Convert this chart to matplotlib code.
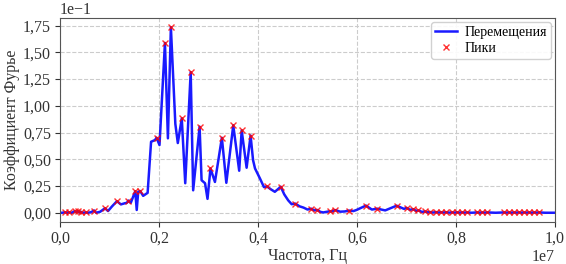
import numpy as np
import matplotlib
matplotlib.use("Agg")
import matplotlib.pyplot as plt
from matplotlib.ticker import ScalarFormatter, MultipleLocator

plt.rcParams['font.family'] = ['Liberation Serif', 'DejaVu Serif']

# Frequency in MHz (converted to Hz below) and Fourier coefficient amplitude
freq_mhz = [
    0.00, 0.04, 0.10, 0.14, 0.18, 0.24, 0.30, 0.33, 0.36, 0.39,
    0.42, 0.46, 0.52, 0.57, 0.63, 0.69, 0.73, 0.81, 0.91, 0.97,
    1.05, 1.15, 1.23, 1.31, 1.35, 1.38, 1.43, 1.52, 1.55, 1.58,
    1.62, 1.68, 1.77, 1.84, 1.92, 1.95, 2.01, 2.12, 2.18, 2.24,
    2.33, 2.38, 2.46, 2.53, 2.64, 2.69, 2.82, 2.86, 2.93, 2.98,
    3.04, 3.13, 3.27, 3.36, 3.50, 3.62, 3.67, 3.77, 3.85, 3.90,
    3.94, 4.04, 4.12, 4.18, 4.26, 4.34, 4.46, 4.53, 4.61, 4.68,
    4.75, 4.84, 4.92, 5.00, 5.08, 5.13, 5.20, 5.26, 5.32, 5.45,
    5.49, 5.56, 5.66, 5.75, 5.84, 5.93, 5.99, 6.18, 6.30, 6.41,
    6.57, 6.80, 6.90, 6.95, 7.00, 7.07, 7.14, 7.19, 7.24, 7.31,
    7.37, 7.42, 7.47, 7.53, 7.60, 7.65, 7.70, 7.75, 7.80, 7.86,
    7.92, 7.97, 8.02, 8.07, 8.12, 8.17, 8.22, 8.32, 8.42, 8.47,
    8.53, 8.58, 8.63, 8.80, 8.97, 9.02, 9.07, 9.12, 9.17, 9.22,
    9.27, 9.32, 9.37, 9.42, 9.47, 9.52, 9.58, 9.63, 9.68, 9.80,
    10.00,
]
amplitude = [
    0.0000, 0.0000, 0.0004, 0.0000, 0.0004, 0.0000, 0.0015, 0.0007, 0.0015, 0.0003,
    0.0009, 0.0000, 0.0003, 0.0000, 0.0006, 0.0021, 0.0000, 0.0009, 0.0042, 0.0016,
    0.0059, 0.0108, 0.0078, 0.0089, 0.0092, 0.0114, 0.0093, 0.0201, 0.0026, 0.0196,
    0.0203, 0.0158, 0.0186, 0.0664, 0.0680, 0.0702, 0.0633, 0.1588, 0.0696, 0.1735,
    0.0831, 0.0652, 0.0882, 0.0276, 0.1315, 0.0210, 0.0805, 0.0304, 0.0276, 0.0130,
    0.0414, 0.0288, 0.0701, 0.0280, 0.0817, 0.0393, 0.0770, 0.0421, 0.0722, 0.0492,
    0.0414, 0.0320, 0.0240, 0.0246, 0.0219, 0.0196, 0.0243, 0.0172, 0.0116, 0.0080,
    0.0086, 0.0060, 0.0048, 0.0030, 0.0038, 0.0022, 0.0026, 0.0008, 0.0003, 0.0014,
    0.0012, 0.0025, 0.0010, 0.0012, 0.0020, 0.0016, 0.0026, 0.0067, 0.0030, 0.0038,
    0.0022, 0.0066, 0.0046, 0.0036, 0.0046, 0.0028, 0.0033, 0.0018, 0.0022, 0.0008,
    0.0012, 0.0004, 0.0007, 0.0002, 0.0006, 0.0002, 0.0005, 0.0002, 0.0005, 0.0001,
    0.0004, 0.0001, 0.0004, 0.0001, 0.0004, 0.0001, 0.0003, 0.0000, 0.0003, 0.0001,
    0.0003, 0.0001, 0.0003, 0.0000, 0.0003, 0.0001, 0.0003, 0.0001, 0.0003, 0.0001,
    0.0003, 0.0001, 0.0003, 0.0001, 0.0003, 0.0001, 0.0003, 0.0001, 0.0003, 0.0000,
    0.0000,
]
y_tick_step = 0.025

freq = np.array(freq_mhz) * 1e6
amp = np.array(amplitude)
# peaks = local maxima of the spectrum
peaks = np.where((amp[1:-1] > amp[:-2]) & (amp[1:-1] > amp[2:]))[0] + 1


class CommaFormatter(ScalarFormatter):
    def __call__(self, x, pos=None):
        return super().__call__(x, pos).replace('.', ',')


FS = 11.5
TXT = '#333333'

fig = plt.figure(figsize=(5.66, 2.64), dpi=100)
ax = fig.add_axes([0.106, 0.159, 0.8746, 0.773])

ax.plot(freq, amp, color='#1a1aff', lw=1.8, label='Перемещения', zorder=2)
ax.plot(freq[peaks], amp[peaks], 'x', color='red', ms=5, mew=1.0,
        alpha=0.8, label='Пики', zorder=3)

ax.set_xlim(0, 1e7)
ax.yaxis.set_major_locator(MultipleLocator(y_tick_step))
ax.grid(True, ls='--', color='#cccccc', lw=0.8)

xf = CommaFormatter(useMathText=False)
yf = CommaFormatter(useMathText=False)
ax.xaxis.set_major_formatter(xf)
ax.yaxis.set_major_formatter(yf)
ax.ticklabel_format(axis='y', style='sci', scilimits=(0, 0))
ax.ticklabel_format(axis='x', style='sci', scilimits=(0, 0))

ax.tick_params(labelsize=FS, colors=TXT, length=3.5, pad=3)
ax.yaxis.get_offset_text().set_fontsize(FS)
ax.yaxis.get_offset_text().set_color(TXT)
ax.xaxis.get_offset_text().set_visible(False)
for s in ax.spines.values():
    s.set_color('#555555')

ax.set_xlabel('Частота, Гц', fontsize=FS, color=TXT, labelpad=1)
ax.set_ylabel('Коэффициент Фурье', fontsize=FS, color=TXT, labelpad=2)

ax.legend(loc='upper right', fontsize=10, framealpha=0.9,
          handlelength=1.6, borderpad=0.3, labelspacing=0.2,
          borderaxespad=0.3, handletextpad=0.5)

fig.canvas.draw()
ax.text(1.0, -0.13, xf.get_offset(), transform=ax.transAxes,
        ha='right', va='top', fontsize=FS, color=TXT)

fig.savefig('out.png', dpi=100)
